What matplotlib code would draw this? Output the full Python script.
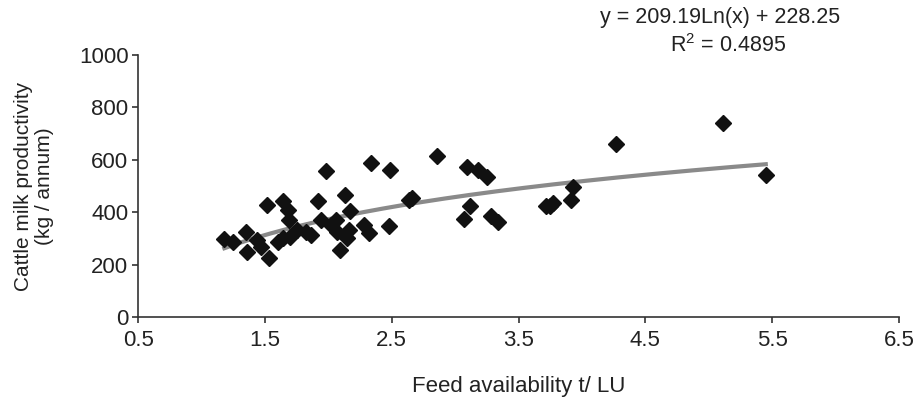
import matplotlib.pyplot as plt
import numpy as np

plt.rcParams['font.family'] = ['Liberation Sans', 'DejaVu Sans']

# feed availability (t / LU) and milk productivity (kg / annum)
feed = [1.18, 1.25, 1.35, 1.36, 1.44, 1.47, 1.53, 1.52, 1.64, 1.68,
        1.69, 1.60, 1.64, 1.70, 1.75, 1.82, 1.86, 1.98, 1.92, 1.94,
        2.02, 2.06, 2.07, 2.09, 2.13, 2.17, 2.16, 2.15, 2.28, 2.32,
        2.34, 2.49, 2.48, 2.66, 2.64, 2.86, 3.09, 3.18, 3.25, 3.12,
        3.07, 3.28, 3.34, 3.72, 3.77, 3.75, 3.93, 3.91, 4.27, 5.11,
        5.45]
milk = [298, 288, 326, 250, 295, 269, 225, 428, 441, 409,
        371, 288, 301, 307, 333, 326, 314, 559, 441, 371,
        352, 371, 326, 257, 466, 403, 333, 301, 352, 320,
        589, 562, 348, 454, 445, 615, 572, 562, 536, 422,
        374, 386, 364, 422, 435, 425, 496, 447, 661, 740,
        543]

# logarithmic trend line as printed on the chart
coef_a = 209.19
coef_b = 228.25
r2 = 0.4895

fig = plt.figure(figsize=(9.21, 4), dpi=100)
ax = fig.add_axes([0.150, 0.207, 0.826, 0.656])

xs = np.linspace(min(feed), max(feed), 200)
ax.plot(xs, coef_a * np.log(xs) + coef_b, color='#8a8a8a', lw=3, zorder=2)
ax.plot(feed, milk, 'D', color='#111111', markersize=8, zorder=3)

ax.set_xlim(0.5, 6.5)
ax.set_ylim(0, 1000)
ax.set_xticks(np.arange(0.5, 6.6, 1.0))
ax.set_yticks(np.arange(0, 1001, 200))
ax.set_xticklabels(['0.5', '1.5', '2.5', '3.5', '4.5', '5.5', '6.5'])

for s in ['top', 'right']:
    ax.spines[s].set_visible(False)
for s in ['left', 'bottom']:
    ax.spines[s].set_color('#333333')
    ax.spines[s].set_linewidth(1.2)
ax.tick_params(direction='out', length=4, width=1.2, color='#333333',
               labelsize=16, labelcolor='#222222')
ax.tick_params(axis='x', pad=5)
ax.tick_params(axis='y', pad=3)

ax.set_xlabel('Feed availability t/ LU', fontsize=16, color='#222222', labelpad=18)
ax.set_ylabel('Cattle milk productivity\n(kg / annum)', fontsize=15, color='#222222',
              labelpad=18, linespacing=1.15)

fig.text(0.782, 0.955, 'y = %.2fLn(x) + %.2f' % (coef_a, coef_b), ha='center', va='center',
         fontsize=15.5, color='#222222')
fig.text(0.790, 0.885, 'R$^{\\mathregular{2}}$ = %.4f' % r2, ha='center', va='center',
         fontsize=15.5, color='#222222')

fig.savefig('out.png', dpi=100)
